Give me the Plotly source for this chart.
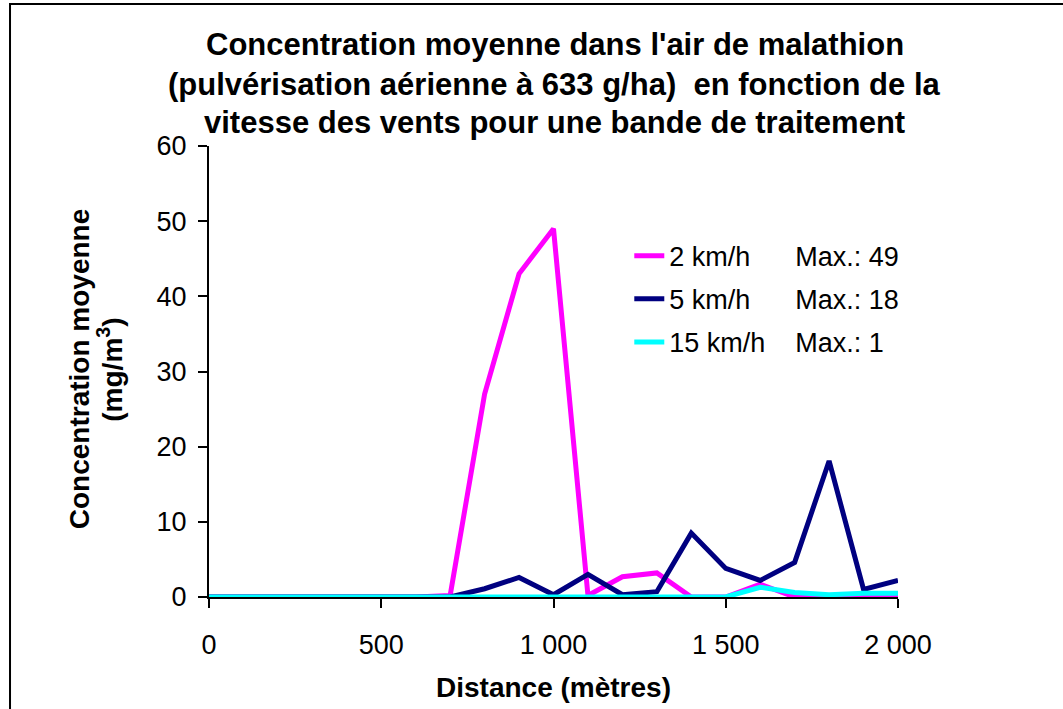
import plotly.graph_objects as go

# distance from the treatment strip (m)
distance = [0, 100, 200, 300, 400, 500, 600, 700, 800, 900, 1000,
            1100, 1200, 1300, 1400, 1500, 1600, 1700, 1800, 1900, 2000]

# mean air concentration for each wind speed
conc_2kmh = [0, 0, 0, 0, 0, 0, 0, 0.2, 27, 43, 49,
             0.2, 2.7, 3.2, 0, 0, 1.7, 0, 0, 0, 0]
conc_5kmh = [0, 0, 0, 0, 0, 0, 0, 0, 1.1, 2.6, 0.3,
             3.0, 0.3, 0.7, 8.5, 3.8, 2.2, 4.6, 18.1, 1.0, 2.2]
conc_15kmh = [0, 0, 0, 0, 0, 0, 0, 0, 0, 0, 0,
              0, 0, 0, 0, 0, 1.3, 0.6, 0.3, 0.5, 0.5]

series_names = ["2 km/h", "5 km/h", "15 km/h"]
series_max = ["Max.: 49", "Max.: 18", "Max.: 1"]

title_lines = [
    "Concentration moyenne dans l'air de malathion",
    "(pulvérisation aérienne à 633 g/ha)  en fonction de la",
    "vitesse des vents pour une bande de traitement",
]

FONT = "Arial, Liberation Sans, sans-serif"
NB = "\u00a0"

fig = go.Figure()

colors = ["#ff00ff", "#000080", "#00ffff"]
gaps = [NB * 6, NB * 6, NB * 4]
for i, (y, name, mx, col, gap) in enumerate(zip(
        [conc_2kmh, conc_5kmh, conc_15kmh], series_names, series_max, colors, gaps)):
    fig.add_trace(go.Scatter(
        x=distance,
        y=y,
        mode="lines",
        name=name + gap + mx,
        legendgroup=str(i),
        line=dict(color=col, width=5),
        cliponaxis=False,
    ))

annotations = []
for txt, ypos in zip(title_lines, [1.226, 1.137, 1.053]):
    annotations.append(dict(
        text="<b>" + txt + "</b>", x=0.502, y=ypos, xref="paper", yref="paper",
        showarrow=False, xanchor="center", yanchor="middle",
        font=dict(family=FONT, size=31, color="black"),
    ))

annotations.append(dict(
    text="<b>Concentration moyenne</b>", x=-0.1887, y=0.505,
    xref="paper", yref="paper", showarrow=False, textangle=-90,
    xanchor="center", yanchor="middle",
    font=dict(family=FONT, size=28, color="black"),
))
annotations.append(dict(
    text="<b>(mg/m<sup>3</sup>)</b>", x=-0.143, y=0.505,
    xref="paper", yref="paper", showarrow=False, textangle=-90,
    xanchor="center", yanchor="middle",
    font=dict(family=FONT, size=28, color="black"),
))
annotations.append(dict(
    text="<b>Distance (mètres)</b>", x=0.5, y=-0.2,
    xref="paper", yref="paper", showarrow=False,
    xanchor="center", yanchor="middle",
    font=dict(family=FONT, size=28, color="black"),
))

fig.update_layout(
    width=1063,
    height=709,
    paper_bgcolor="white",
    plot_bgcolor="white",
    separators=", ",
    margin=dict(l=209, r=165, t=146, b=112),
    font=dict(family=FONT, size=27, color="black"),
    showlegend=True,
    legend=dict(
        x=0.61, y=0.81, xanchor="left", yanchor="top",
        bgcolor="rgba(0,0,0,0)",
        tracegroupgap=5,
        font=dict(family=FONT, size=27, color="black"),
    ),
    annotations=annotations,
    shapes=[dict(
        type="rect", xref="paper", yref="paper",
        x0=-0.2888, x1=1.4, y0=-0.4, y1=1.3149,
        line=dict(color="black", width=2),
    )],
    xaxis=dict(
        range=[0, 2000],
        tickvals=[0, 500, 1000, 1500, 2000],
        tickformat=",d",
        showgrid=False,
        zeroline=False,
        showline=True,
        linecolor="black",
        linewidth=2,
        ticks="outside",
        ticklen=9,
        tickwidth=2,
        tickcolor="black",
        ticklabelstandoff=14,
    ),
    yaxis=dict(
        range=[0, 60],
        dtick=10,
        showgrid=False,
        zeroline=False,
        showline=True,
        linecolor="black",
        linewidth=2,
        ticks="outside",
        ticklen=9,
        tickwidth=2,
        tickcolor="black",
        ticklabelstandoff=6,
    ),
)

fig.write_html("out.html", config={"displayModeBar": False},
               post_script="document.body.style.margin='0';")
